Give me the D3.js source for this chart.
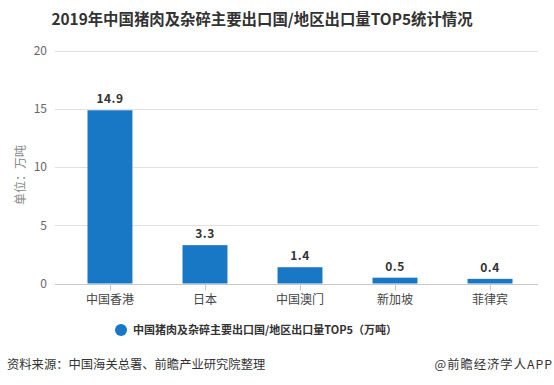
<!DOCTYPE html>
<html><head><meta charset="utf-8">
<script src="https://cdn.jsdelivr.net/npm/d3@7"></script>
<style>
body{margin:0;background:#fff;}
svg{display:block;font-family:"Noto Sans CJK SC","Microsoft YaHei",sans-serif;}
</style></head>
<body><svg id="c" width="554" height="385"></svg>
<script>
const categories = ["中国香港","日本","中国澳门","新加坡","菲律宾"];
const values = [14.9, 3.3, 1.4, 0.5, 0.4];
const yTicks = [0,5,10,15,20];
const title = "2019年中国猪肉及杂碎主要出口国/地区出口量TOP5统计情况";
const seriesName = "中国猪肉及杂碎主要出口国/地区出口量TOP5（万吨）";
const yTitle = "单位：万吨";
const source = "资料来源：中国海关总署、前瞻产业研究院整理";
const credit = "@前瞻经济学人APP";

const svg = d3.select("#c");
const barColor = "#1878c6";
const x = d3.scaleBand().domain(categories).range([62.5, 537.5]).paddingInner(0.527).paddingOuter(0.263);
const y = d3.scaleLinear().domain([0,20]).range([283.5, 51]);
const gridL = 55, gridR = 538;

// title
svg.append("text").attr("x",262).attr("y",25).attr("text-anchor","middle")
  .attr("font-size",15.4).attr("font-weight","bold").attr("fill","#333").text(title);

// gridlines
svg.append("g").selectAll("line").data(yTicks.filter(d=>d>0)).join("line")
  .attr("x1",gridL).attr("x2",gridR).attr("y1",d=>Math.round(y(d))+0.5).attr("y2",d=>Math.round(y(d))+0.5)
  .attr("stroke","#e0e0e0").attr("stroke-width",1);

// y tick labels
svg.append("g").selectAll("text").data(yTicks).join("text")
  .attr("x",47).attr("y",d=>y(d)).attr("dy","0.35em").attr("text-anchor","end")
  .attr("font-size",12).attr("fill","#666").text(d=>d);

// y title
svg.append("text").attr("transform","translate(21,175) rotate(-90)").attr("text-anchor","middle")
  .attr("dy","0.35em").attr("font-size",12).attr("fill","#8a8a8a").text(yTitle);

// bars
svg.append("g").selectAll("rect").data(values).join("rect")
  .attr("x",(d,i)=>x(categories[i])).attr("width",x.bandwidth())
  .attr("y",d=>y(d)).attr("height",d=>y(0)-y(d)).attr("fill",barColor);

// value labels
svg.append("g").selectAll("text").data(values).join("text")
  .attr("x",(d,i)=>x(categories[i])+x.bandwidth()/2).attr("y",d=>y(d)-7)
  .attr("text-anchor","middle").attr("font-size",12).attr("font-weight","bold").attr("fill","#333")
  .attr("letter-spacing",0.5).text(d=>d.toFixed(1));

// x axis
const xa = svg.append("g").attr("transform",`translate(0,${Math.round(y(0))+0.5})`);
xa.append("line").attr("x1",gridL).attr("x2",gridR).attr("stroke","#c8c8c8");
xa.selectAll("line.t").data(categories).join("line").attr("class","t")
  .attr("x1",d=>Math.round(x(d)+x.bandwidth()/2)+0.5).attr("x2",d=>Math.round(x(d)+x.bandwidth()/2)+0.5)
  .attr("y1",0).attr("y2",6).attr("stroke","#c8c8c8");
xa.selectAll("text").data(categories).join("text")
  .attr("x",d=>x(d)+x.bandwidth()/2).attr("y",15).attr("dy","0.35em").attr("text-anchor","middle")
  .attr("font-size",12).attr("fill","#444").text(d=>d);

// legend
svg.append("circle").attr("cx",121).attr("cy",330).attr("r",6).attr("fill",barColor);
svg.append("text").attr("x",133).attr("y",330).attr("dy","0.35em").attr("font-size",11)
  .attr("font-weight","bold").attr("fill","#333").text(seriesName);

// footer
svg.append("text").attr("x",7).attr("y",365).attr("dy","0.35em").attr("font-size",12.3)
  .attr("fill","#333").text(source);
svg.append("text").attr("x",553).attr("y",365).attr("dy","0.35em").attr("text-anchor","end")
  .attr("font-size",12.3).attr("letter-spacing",1).attr("fill","#333").text(credit);
</script></body></html>
